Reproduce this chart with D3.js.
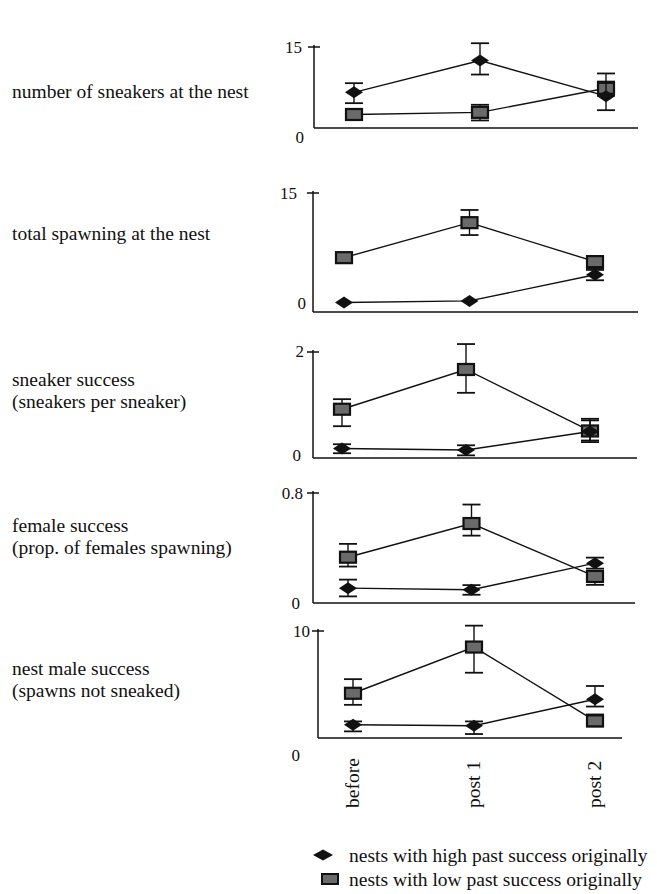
<!DOCTYPE html>
<html><head><meta charset="utf-8">
<script src="https://cdn.jsdelivr.net/npm/d3@7"></script>
<style>body{margin:0;background:#fff}svg{display:block}text{font-family:"Liberation Serif","DejaVu Serif",serif;fill:#111}</style>
</head><body><svg id="c" width="657" height="894"></svg>
<script>
// ---- data ----
const categories = ["before", "post 1", "post 2"];
const panelTitles = [
  ["number of sneakers at the nest"],
  ["total spawning at the nest"],
  ["sneaker success", "(sneakers per sneaker)"],
  ["female success", "(prop. of females spawning)"],
  ["nest male success", "(spawns not sneaked)"]
];
const yMaxValues = [15, 15, 2, 0.8, 10];
const yTopLabels = ["15", "15", "2", "0.8", "10"];
const yBottomLabels = ["0", "0", "0", "0", "0"];
// high past success (diamonds): mean, lower, upper
const highMean = [[6.6, 12.5, 5.9], [1.2, 1.4, 4.7], [0.18, 0.15, 0.5], [0.108, 0.096, 0.29], [1.24, 1.15, 3.62]];
const highLow  = [[4.6, 9.9, 3.3], [1.2, 1.4, 4.0], [0.09, 0.05, 0.33], [0.048, 0.06, 0.25], [0.62, 0.37, 2.94]];
const highHigh = [[8.3, 15.7, 10.1], [1.2, 1.4, 5.3], [0.26, 0.24, 0.71], [0.17, 0.13, 0.33], [1.55, 1.55, 4.86]];
// low past success (squares): mean, lower, upper
const lowMean = [[2.5, 2.9, 7.35], [6.85, 11.26, 6.35], [0.92, 1.67, 0.51], [0.333, 0.578, 0.193], [4.18, 8.5, 1.6]];
const lowLow  = [[1.6, 1.4, 6.0], [6.5, 9.7, 5.5], [0.6, 1.23, 0.30], [0.265, 0.49, 0.132], [3.1, 6.1, 1.08]];
const lowHigh = [[3.3, 4.3, 8.6], [7.2, 12.86, 7.0], [1.11, 2.15, 0.74], [0.43, 0.716, 0.234], [5.5, 10.5, 2.2]];
const legendLabels = ["nests with high past success originally", "nests with low past success originally"];

// ---- layout ----
const layout = [
  {axisX:314, right:638, top:47,  bottom:128, cx:[354,606], topLabX:302, topLabY:47,  zeroLabX:304, zeroLabY:137, titleY:[91]},
  {axisX:313, right:638, top:193, bottom:312, cx:[344,595], topLabX:297, topLabY:193, zeroLabX:306, zeroLabY:303, titleY:[233]},
  {axisX:313, right:637, top:352, bottom:458, cx:[342,590], topLabX:304, topLabY:351, zeroLabX:301, zeroLabY:455, titleY:[379,401]},
  {axisX:313, right:635, top:493, bottom:603, cx:[348,595], topLabX:303, topLabY:493, zeroLabX:300, zeroLabY:603, titleY:[525,547]},
  {axisX:318, right:622, top:631, bottom:738, cx:[353,595], topLabX:310, topLabY:631, zeroLabX:300, zeroLabY:755, titleY:[668,690]}
];
const titleSize = 19.5, tickSize = 17;
const svg = d3.select("#c");
const diamond = (x,y,w=9,h=6) => `M${x-w},${y}L${x},${y-h}L${x+w},${y}L${x},${y+h}Z`;

function drawSeries(g, x, y, mean, lo, hi, kind){
  const pts = categories.map((c,i)=>({c, m:mean[i], l:lo[i], h:hi[i]}));
  g.append("path").datum(pts)
    .attr("d", d3.line().x(d=>x(d.c)).y(d=>y(d.m)))
    .attr("fill","none").attr("stroke","#111").attr("stroke-width",1.4);
  const eb = g.selectAll(null).data(pts.filter(d=>d.h-d.l>0)).enter().append("g");
  eb.append("line").attr("x1",d=>x(d.c)).attr("x2",d=>x(d.c)).attr("y1",d=>y(d.l)).attr("y2",d=>y(d.h)).attr("stroke","#111").attr("stroke-width",1.4);
  [ "l","h" ].forEach(k=>eb.append("line").attr("x1",d=>x(d.c)-9).attr("x2",d=>x(d.c)+9).attr("y1",d=>y(d[k])).attr("y2",d=>y(d[k])).attr("stroke","#111").attr("stroke-width",1.8));
  if(kind==="d"){
    g.selectAll(null).data(pts).enter().append("path").attr("d",d=>diamond(x(d.c),y(d.m))).attr("fill","#111");
  } else {
    g.selectAll(null).data(pts).enter().append("rect")
      .attr("x",d=>x(d.c)-8).attr("y",d=>y(d.m)-5.5).attr("width",16).attr("height",11)
      .attr("fill","#6a6a6a").attr("stroke","#111").attr("stroke-width",2.2);
  }
}

layout.forEach((L,p)=>{
  const g = svg.append("g");
  const x = d3.scalePoint().domain(categories).range(L.cx);
  const y = d3.scaleLinear().domain([0,yMaxValues[p]]).range([L.bottom,L.top]);
  // axes
  g.append("line").attr("x1",L.axisX).attr("x2",L.axisX).attr("y1",y(yMaxValues[p])-2).attr("y2",L.bottom).attr("stroke","#111").attr("stroke-width",1.5);
  g.append("line").attr("x1",L.axisX).attr("x2",L.right).attr("y1",L.bottom).attr("y2",L.bottom).attr("stroke","#111").attr("stroke-width",1.5);
  g.append("line").attr("x1",L.axisX-6).attr("x2",L.axisX+6).attr("y1",y(yMaxValues[p])).attr("y2",y(yMaxValues[p])).attr("stroke","#111").attr("stroke-width",1.5);
  g.append("text").attr("x",L.topLabX).attr("y",L.topLabY).attr("dy","0.35em").attr("text-anchor","end").attr("font-size",tickSize).text(yTopLabels[p]);
  g.append("text").attr("x",L.zeroLabX).attr("y",L.zeroLabY).attr("dy","0.35em").attr("text-anchor","end").attr("font-size",tickSize).text(yBottomLabels[p]);
  // title
  panelTitles[p].forEach((t,i)=>g.append("text").attr("x",12).attr("y",L.titleY[i]).attr("dy","0.35em").attr("font-size",titleSize).text(t));
  drawSeries(g,x,y,lowMean[p],lowLow[p],lowHigh[p],"s");
  drawSeries(g,x,y,highMean[p],highLow[p],highHigh[p],"d");
  if(p===layout.length-1){
    g.selectAll(null).data(categories).enter().append("text")
      .attr("transform",d=>`translate(${x(d)+6},808) rotate(-90)`)
      .attr("text-anchor","start").attr("font-size",titleSize).text(d=>d);
  }
});

// legend
const lg = svg.append("g");
lg.append("path").attr("d",diamond(323,855,10,5.5)).attr("fill","#111");
lg.append("rect").attr("x",322).attr("y",874).attr("width",16).attr("height",10).attr("fill","#6a6a6a").attr("stroke","#111").attr("stroke-width",2);
legendLabels.forEach((t,i)=>lg.append("text").attr("x",349).attr("y",855+i*24).attr("dy","0.35em").attr("font-size",titleSize).text(t));
</script></body></html>
